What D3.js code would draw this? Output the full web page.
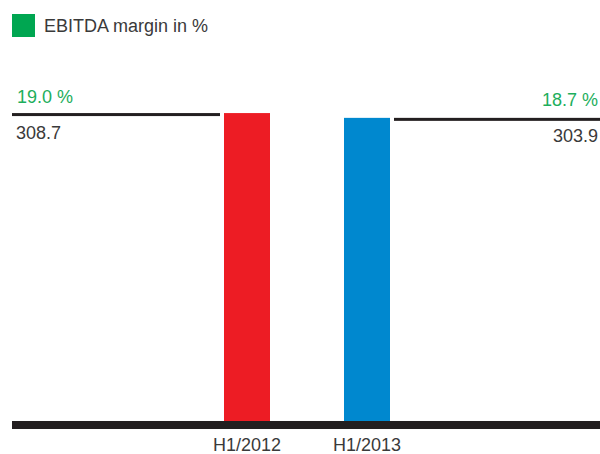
<!DOCTYPE html>
<html>
<head>
<meta charset="utf-8">
<script src="https://cdn.jsdelivr.net/npm/d3@7"></script>
<style>
  html, body { margin: 0; padding: 0; background: #fff; }
  svg { display: block; }
  text { font-family: "Liberation Sans", Arial, Helvetica, sans-serif; }
</style>
</head>
<body>
<div id="chart"></div>
<script>
const categories = ["H1/2012", "H1/2013"];
const values = [308.7, 303.9];
const marginLabels = ["19.0 %", "18.7 %"];
const valueLabels = ["308.7", "303.9"];
const barColors = ["#ed1c24", "#0088cf"];
const legendLabel = "EBITDA margin in %";

const W = 600, H = 454;
const svg = d3.select("#chart").append("svg").attr("width", W).attr("height", H);

const x = d3.scaleBand().domain(categories).range([164, 450])
  .paddingInner(1 - 46 / 120).paddingOuter(0.5);
const y = d3.scaleLinear().domain([0, 400]).range([421, 421 - 400 * 0.9975]);

const lineColor = "#231f20";
const textColor = "#3a3a3a";
const green = "#1dae5c";

// legend
svg.append("rect").attr("x", 12).attr("y", 14).attr("width", 23).attr("height", 23).attr("fill", "#00a651");
svg.append("text").attr("x", 44).attr("y", 32).attr("font-size", 18).attr("fill", textColor).text(legendLabel);

// bars
svg.selectAll("rect.bar").data(categories).enter().append("rect")
  .attr("class", "bar")
  .attr("x", d => x(d))
  .attr("y", (d, i) => y(values[i]))
  .attr("width", x.bandwidth())
  .attr("height", (d, i) => y(0) - y(values[i]))
  .attr("fill", (d, i) => barColors[i]);

// reference lines
const left = { x0: 12, x1: x(categories[0]) - 4 };
const right = { x0: x(categories[1]) + x.bandwidth() + 4, x1: 600 };
svg.append("rect").attr("x", left.x0).attr("y", y(values[0])).attr("width", left.x1 - left.x0).attr("height", 3).attr("fill", lineColor);
svg.append("rect").attr("x", right.x0).attr("y", y(values[1])).attr("width", right.x1 - right.x0).attr("height", 3).attr("fill", lineColor);

// labels
svg.append("text").attr("x", 17).attr("y", y(values[0]) - 10).attr("font-size", 18).attr("fill", green).text(marginLabels[0]);
svg.append("text").attr("x", 16).attr("y", y(values[0]) + 26).attr("font-size", 18).attr("fill", textColor).text(valueLabels[0]);
svg.append("text").attr("x", 598).attr("y", y(values[1]) - 11.5).attr("font-size", 18).attr("fill", green).attr("text-anchor", "end").text(marginLabels[1]);
svg.append("text").attr("x", 598).attr("y", y(values[1]) + 24).attr("font-size", 18).attr("fill", textColor).attr("text-anchor", "end").text(valueLabels[1]);

// baseline
svg.append("rect").attr("x", 12).attr("y", y(0)).attr("width", 600 - 12).attr("height", 8).attr("fill", lineColor);

// x axis labels
const xAxis = d3.axisBottom(x).tickSize(0).tickPadding(0);
const gx = svg.append("g").attr("transform", `translate(0, ${y(0) + 8})`).call(xAxis);
gx.select(".domain").remove();
gx.selectAll("text")
  .attr("font-size", 18)
  .attr("fill", textColor)
  .attr("font-family", "'Liberation Sans', Arial, sans-serif")
  .attr("dy", null)
  .attr("y", 22);
</script>
</body>
</html>
